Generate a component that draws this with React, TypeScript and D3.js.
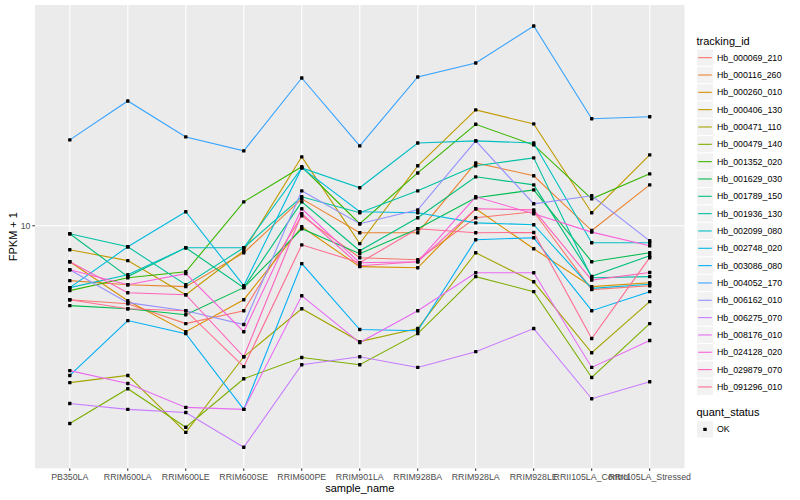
import { useEffect, useRef } from 'react';
import * as d3 from 'd3';

// sample order on the x axis
const samples = [
  'PB350LA', 'RRIM600LA', 'RRIM600LE', 'RRIM600SE', 'RRIM600PE', 'RRIM901LA',
  'RRIM928BA', 'RRIM928LA', 'RRIM928LE', 'RRII105LA_Control', 'RRII105LA_Stressed',
];

const trackingIds = [
  'Hb_000069_210', 'Hb_000116_260', 'Hb_000260_010', 'Hb_000406_130', 'Hb_000471_110',
  'Hb_000479_140', 'Hb_001352_020', 'Hb_001629_030', 'Hb_001789_150', 'Hb_001936_130',
  'Hb_002099_080', 'Hb_002748_020', 'Hb_003086_080', 'Hb_004052_170', 'Hb_006162_010',
  'Hb_006275_070', 'Hb_008176_010', 'Hb_024128_020', 'Hb_029879_070', 'Hb_091296_010',
];

// FPKM + 1 per sample, same order as samples
const hb000069 = [6.53, 6.38, 5.69, 6.13, 10.59, 8.32, 8.22, 10.47, 10.84, 6.92, 7.08];
const hb000116 = [7.29, 7.12, 7.04, 8.56, 11.68, 9.61, 9.61, 14.37, 13.34, 9.73, 12.66];
const hb000260 = [8.13, 6.49, 5.43, 6.53, 9.94, 7.90, 7.85, 11.03, 8.76, 7.04, 7.20];
const hb000406 = [8.71, 8.18, 6.72, 8.66, 14.88, 9.02, 14.13, 19.50, 17.99, 10.78, 15.05];
const hb000471 = [4.05, 4.22, 3.04, 4.70, 6.20, 5.13, 5.53, 8.56, 7.24, 4.81, 6.46];
const hb000479 = [3.20, 3.91, 3.13, 4.14, 4.68, 4.49, 5.37, 7.46, 6.84, 4.17, 5.69];
const hb001352 = [6.88, 7.41, 7.67, 11.48, 14.05, 10.12, 13.56, 17.95, 15.94, 11.68, 13.49];
const hb001629 = [6.31, 6.20, 5.99, 7.00, 9.83, 8.51, 9.83, 11.75, 12.30, 8.13, 8.56];
const hb001789 = [9.55, 7.46, 8.81, 7.00, 11.48, 8.66, 10.47, 13.26, 12.66, 7.47, 8.41];
const hb001936 = [9.55, 8.86, 7.12, 8.81, 11.82, 10.78, 12.23, 14.13, 14.79, 7.41, 7.46];
const hb002099 = [7.00, 7.54, 8.81, 8.81, 13.96, 12.45, 16.12, 16.31, 16.12, 9.07, 9.07];
const hb002748 = [7.00, 8.86, 10.84, 7.08, 13.96, 10.84, 10.78, 10.17, 10.06, 6.97, 7.14];
const hb003086 = [4.22, 5.79, 5.37, 3.47, 8.04, 5.50, 5.46, 9.23, 9.33, 6.13, 6.84];
const hb004052 = [16.41, 20.53, 16.69, 15.40, 23.44, 15.85, 23.58, 25.56, 31.62, 18.54, 18.75];
const hb006162 = [7.76, 6.42, 6.13, 5.66, 12.23, 10.12, 10.96, 16.31, 11.35, 11.89, 9.17];
const hb006275 = [3.59, 3.47, 3.41, 2.79, 4.49, 4.70, 4.42, 4.84, 5.53, 3.69, 4.07];
const hb008176 = [4.34, 4.03, 3.51, 3.47, 6.68, 5.10, 6.13, 7.63, 7.63, 4.42, 5.16];
const hb024128 = [7.76, 7.12, 7.59, 5.43, 11.03, 8.08, 8.13, 11.82, 10.72, 9.64, 8.91];
const hb029879 = [8.13, 6.80, 6.72, 4.70, 10.72, 7.94, 8.13, 11.03, 10.96, 7.31, 7.64];
const hb091296 = [6.53, 6.20, 6.13, 4.44, 8.96, 8.08, 9.83, 9.61, 9.62, 5.22, 8.32];

const seriesValues = [
  hb000069, hb000116, hb000260, hb000406, hb000471, hb000479, hb001352, hb001629,
  hb001789, hb001936, hb002099, hb002748, hb003086, hb004052, hb006162, hb006275,
  hb008176, hb024128, hb029879, hb091296,
];

const quantStatus = ['OK'];
const yTicks = [10];

// ggplot2 default hue palette for 20 groups
const hueColors = [
  '#F8766D', '#EA8331', '#D89000', '#C09B00', '#A3A500', '#7CAE00', '#39B600', '#00BB4E',
  '#00BF7D', '#00C1A3', '#00BFC4', '#00BAE0', '#00B0F6', '#35A2FF', '#9590FF', '#C77CFF',
  '#E76BF3', '#FA62DB', '#FF62BC', '#FF6C91',
];

const width = 800;
const height = 500;
const panel = { left: 35, right: 684.5, top: 5, bottom: 468.3 };
const font = '"Liberation Sans", Arial, sans-serif';

const App = () => {
  const svgRef = useRef<SVGSVGElement>(null);

  useEffect(() => {
    if (!svgRef.current) return;
    const svg = d3.select(svgRef.current);
    svg.selectAll('*').remove();

    const x = d3.scalePoint<string>()
      .domain(samples)
      .range([panel.left, panel.right])
      .padding(0.6);

    // log scale with 5% expansion like ggplot
    const [lo, hi] = d3.extent(seriesValues.flat()) as [number, number];
    const llo = Math.log10(lo);
    const lhi = Math.log10(hi);
    const pad = (lhi - llo) * 0.05;
    const y = d3.scaleLog()
      .domain([10 ** (llo - pad), 10 ** (lhi + pad)])
      .range([panel.bottom, panel.top]);

    // panel
    svg.append('rect')
      .attr('x', panel.left)
      .attr('y', panel.top)
      .attr('width', panel.right - panel.left)
      .attr('height', panel.bottom - panel.top)
      .attr('fill', '#ebebeb');

    // grid
    svg.selectAll('.vgrid')
      .data(samples)
      .enter()
      .append('line')
      .attr('x1', d => x(d)!)
      .attr('x2', d => x(d)!)
      .attr('y1', panel.top)
      .attr('y2', panel.bottom)
      .attr('stroke', 'white')
      .attr('stroke-width', 1.1);

    svg.selectAll('.hgrid')
      .data(yTicks)
      .enter()
      .append('line')
      .attr('x1', panel.left)
      .attr('x2', panel.right)
      .attr('y1', d => y(d))
      .attr('y2', d => y(d))
      .attr('stroke', 'white')
      .attr('stroke-width', 1.1);

    // lines
    const line = d3.line<number>()
      .x((_, i) => x(samples[i])!)
      .y(d => y(d));

    svg.selectAll('.series')
      .data(seriesValues)
      .enter()
      .append('path')
      .attr('d', d => line(d))
      .attr('fill', 'none')
      .attr('stroke', (_, i) => hueColors[i])
      .attr('stroke-width', 1.1);

    // points
    const pts = seriesValues.flatMap(vals => vals.map((v, i) => ({ s: samples[i], v })));
    svg.selectAll('.pt')
      .data(pts)
      .enter()
      .append('rect')
      .attr('x', d => x(d.s)! - 1.7)
      .attr('y', d => y(d.v) - 1.7)
      .attr('width', 3.4)
      .attr('height', 3.4)
      .attr('rx', 0.6)
      .attr('fill', 'black');

    // axes
    svg.selectAll('.xtick')
      .data(samples)
      .enter()
      .append('line')
      .attr('x1', d => x(d)!)
      .attr('x2', d => x(d)!)
      .attr('y1', panel.bottom)
      .attr('y2', panel.bottom + 2.7)
      .attr('stroke', '#333333');

    svg.selectAll('.xlab')
      .data(samples)
      .enter()
      .append('text')
      .attr('x', d => x(d)!)
      .attr('y', panel.bottom + 8.5)
      .attr('dy', '0.35em')
      .attr('text-anchor', 'middle')
      .style('font-family', font)
      .style('font-size', '8.8px')
      .attr('fill', '#4d4d4d')
      .text(d => d);

    svg.selectAll('.ytick')
      .data(yTicks)
      .enter()
      .append('line')
      .attr('x1', panel.left - 2.7)
      .attr('x2', panel.left)
      .attr('y1', d => y(d))
      .attr('y2', d => y(d))
      .attr('stroke', '#333333');

    svg.selectAll('.ylab')
      .data(yTicks)
      .enter()
      .append('text')
      .attr('x', panel.left - 4.5)
      .attr('y', d => y(d))
      .attr('dy', '0.35em')
      .attr('text-anchor', 'end')
      .style('font-family', font)
      .style('font-size', '8.8px')
      .attr('fill', '#4d4d4d')
      .text(d => String(d));

    svg.append('text')
      .attr('x', (panel.left + panel.right) / 2)
      .attr('y', 488)
      .attr('dy', '0.35em')
      .attr('text-anchor', 'middle')
      .style('font-family', font)
      .style('font-size', '11px')
      .text('sample_name');

    svg.append('text')
      .attr('transform', `translate(13,${(panel.top + panel.bottom) / 2}) rotate(-90)`)
      .attr('dy', '0.35em')
      .attr('text-anchor', 'middle')
      .style('font-family', font)
      .style('font-size', '11px')
      .text('FPKM + 1');

    // legend: tracking_id
    const lx = 696.5;
    const keyH = 17.33;
    const keyTop = 49;

    svg.append('text')
      .attr('x', lx)
      .attr('y', 41)
      .attr('dy', '0.35em')
      .style('font-family', font)
      .style('font-size', '11px')
      .text('tracking_id');

    const keys = svg.selectAll('.key')
      .data(trackingIds)
      .enter()
      .append('g')
      .attr('transform', (_, i) => `translate(${lx},${keyTop + i * keyH})`);

    keys.append('rect')
      .attr('width', 17)
      .attr('height', keyH)
      .attr('fill', '#f2f2f2')
      .attr('stroke', 'white')
      .attr('stroke-width', 1);

    keys.append('line')
      .attr('x1', 1.7)
      .attr('x2', 15.3)
      .attr('y1', keyH / 2)
      .attr('y2', keyH / 2)
      .attr('stroke', (_, i) => hueColors[i])
      .attr('stroke-width', 1.1);

    keys.append('text')
      .attr('x', 20.5)
      .attr('y', keyH / 2)
      .attr('dy', '0.35em')
      .style('font-family', font)
      .style('font-size', '8.8px')
      .text(d => d);

    // legend: quant_status
    svg.append('text')
      .attr('x', lx)
      .attr('y', 412)
      .attr('dy', '0.35em')
      .style('font-family', font)
      .style('font-size', '11px')
      .text('quant_status');

    const qkeys = svg.selectAll('.qkey')
      .data(quantStatus)
      .enter()
      .append('g')
      .attr('transform', (_, i) => `translate(${lx},${420.7 + i * keyH})`);

    qkeys.append('rect')
      .attr('width', 17)
      .attr('height', keyH)
      .attr('fill', '#f2f2f2')
      .attr('stroke', 'white');

    qkeys.append('rect')
      .attr('x', 8.5 - 1.7)
      .attr('y', keyH / 2 - 1.7)
      .attr('width', 3.4)
      .attr('height', 3.4)
      .attr('rx', 0.6)
      .attr('fill', 'black');

    qkeys.append('text')
      .attr('x', 20.5)
      .attr('y', keyH / 2)
      .attr('dy', '0.35em')
      .style('font-family', font)
      .style('font-size', '8.8px')
      .text(d => d);
  }, []);

  return (
    <>
      <style>{'body { margin: 0; background: white; }'}</style>
      <svg ref={svgRef} width={width} height={height} style={{ display: 'block' }}></svg>
    </>
  );
};

export default App;
